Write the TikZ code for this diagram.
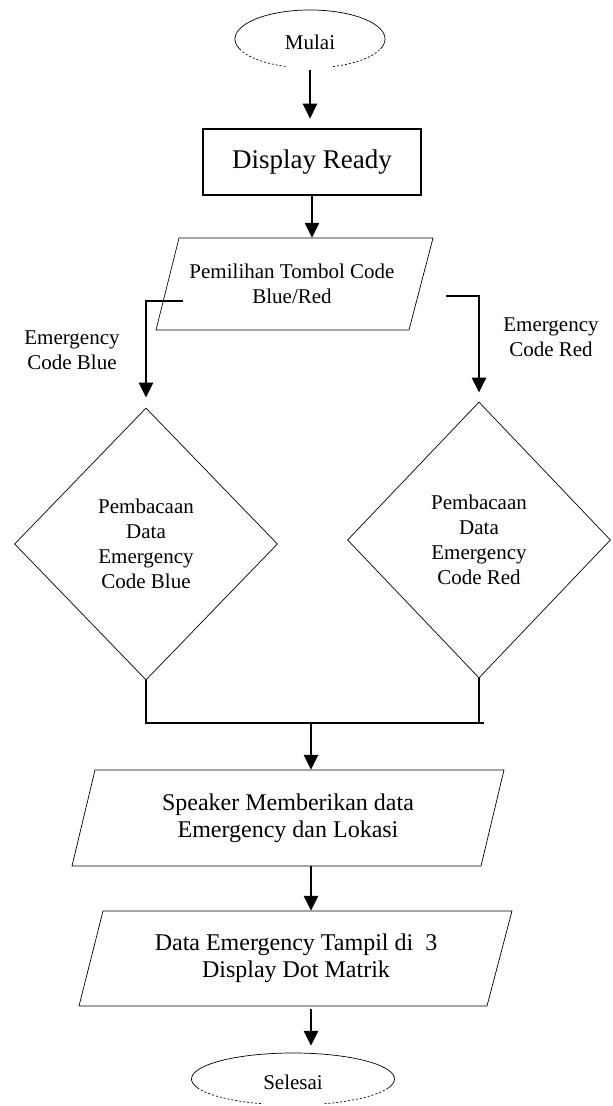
\documentclass[tikz,border=0pt]{standalone}
\usepackage{fontspec}
\setmainfont{Liberation Serif}
\usepackage{tikz}
\usetikzlibrary{shapes.geometric, calc, positioning}
\usetikzlibrary{arrows.meta}
\tikzset{>={Triangle[width=14pt,length=15pt]}}

\begin{document}
\begin{tikzpicture}[x=1pt,y=1pt,
		flow/.style={line width=2.6pt,->},
		junc/.style={line width=2.6pt},
		thinline/.style={line width=0.7pt},
		body/.style={font=\fontsize{21pt}{25pt}\selectfont, align=center},
		big/.style={font=\fontsize{24pt}{27pt}\selectfont, align=center},
		terminal/.style={ellipse, body, inner sep=0pt, text height=22pt},
		decision/.style={diamond, draw, thinline, body, inner sep=0pt, minimum width=263pt}]
	\useasboundingbox (0,0) rectangle (613,1106);
	\node[terminal, minimum width=150pt, minimum height=58pt] (mulai) at (310,1067) {Mulai};
	\node[draw, line width=2.6pt, minimum width=218pt, minimum height=66pt, font=\fontsize{27pt}{30pt}\selectfont] (ready) at (312,944) {Display Ready};
	\node[body, minimum height=92pt] (pilih) at (292,822) {Pemilihan Tombol Code\\Blue/Red};
	\draw[thinline] (179,868) -- (433,868) -- (409,776) -- (156,776) -- cycle;
	\node[body] (bluelbl) at (72,756) {Emergency\\Code Blue};
	\node[body] (redlbl) at (551,769) {Emergency\\Code Red};
	\node[decision, minimum height=272pt] (blue) at (146,562) {Pembacaan\\Data\\Emergency\\Code Blue};
	\node[decision, minimum height=276pt] (red) at (479,566) {Pembacaan\\Data\\Emergency\\Code Red};
	\node[big, minimum height=96pt] (spk) at (288,288) {Speaker Memberikan data\\Emergency dan Lokasi};
	\draw[thinline] (95,336) -- (504,336) -- (481,240) -- (72,240) -- cycle;
	\node[big, minimum height=95pt] (data) at (296,147.5) {Data Emergency Tampil di \ 3\\Display Dot Matrik};
	\draw[thinline] (103,195) -- (512,195) -- (487,100) -- (79,100) -- cycle;
	\node[terminal, minimum width=203pt, minimum height=52pt] (selesai) at (293,27) {Selesai};
	\foreach \n/\rx/\ry in {mulai/75/29, selesai/101.5/26}{
		\draw[thinline] (\n.center) ++(200:\rx pt and \ry pt) arc[start angle=200, end angle=-20, x radius=\rx pt, y radius=\ry pt];
		\draw[thinline, dash pattern=on 2pt off 2pt] (\n.center) ++(200:\rx pt and \ry pt) arc[start angle=200, end angle=252, x radius=\rx pt, y radius=\ry pt];
		\draw[thinline, dash pattern=on 2pt off 2pt] (\n.center) ++(288:\rx pt and \ry pt) arc[start angle=288, end angle=340, x radius=\rx pt, y radius=\ry pt];
	}
	\coordinate (bluestart) at (183,805);
	\coordinate (redstart) at (446,810);
	\coordinate (join) at (311,383);
	\draw[flow, shorten <=2pt, shorten >=9pt] (mulai.south) -- (mulai.south |- ready.north);
	\draw[flow] (ready.south) -- (ready.south |- pilih.north);
	\draw[flow, shorten >=10pt] (bluestart) -| (blue.north);
	\draw[flow, shorten >=9pt] (redstart) -| (red.north);
	\draw[junc] (blue.south) -- (blue.south |- join) -- ($(red.south |- join)+(5,0)$);
	\draw[junc] (red.south) -- (red.south |- join);
	\draw[flow] (join) -- (join |- spk.north);
	\draw[flow] (join |- spk.south) -- (join |- data.north);
	\draw[flow, shorten <=3pt, shorten >=7pt] (join |- data.south) -- (join |- selesai.north);
\end{tikzpicture}
\end{document}
